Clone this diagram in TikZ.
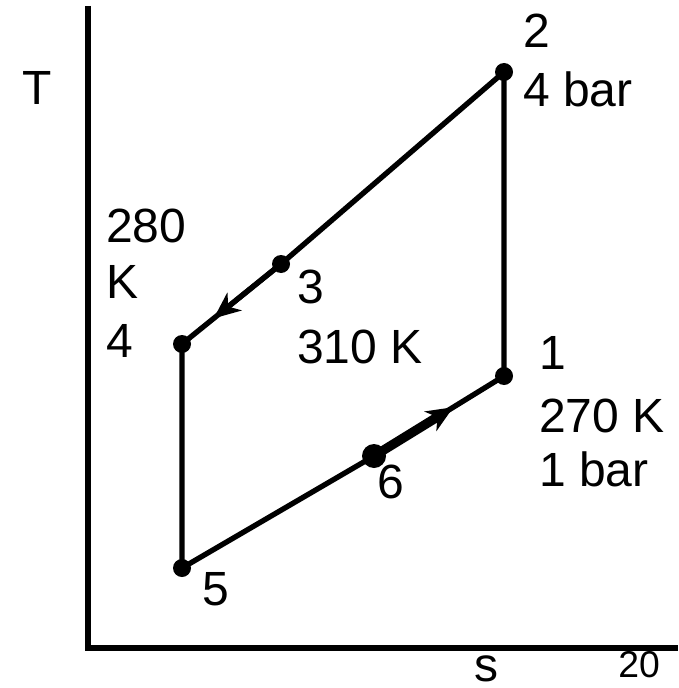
\documentclass[tikz,border=0pt]{standalone}
\usepackage{fontspec}
\setmainfont{Liberation Sans}
\usetikzlibrary{arrows.meta,calc}
\begin{document}
\begin{tikzpicture}[x=0.75pt,y=-0.75pt,
  curve/.style={line width=4pt},
  dot/.style={circle,fill=black,inner sep=0pt,minimum size=13.5pt},
  bigdot/.style={circle,fill=black,inner sep=0pt,minimum size=18pt},
  lbl/.style={anchor=base west,inner sep=0pt,font=\fontsize{36}{43}\selectfont},
  smalllbl/.style={anchor=base west,inner sep=0pt,font=\fontsize{28}{34}\selectfont},
  tip/.style={-{Stealth[length=20pt,width=17pt,inset=6pt]}}]
\useasboundingbox (0,0) rectangle (678,688);
% axes
\coordinate (ytop) at (88,6);
\coordinate (origin) at (88,648);
\coordinate (xend) at (678,648);
\draw[curve,line join=miter] (ytop) -- (origin) -- (xend);
% state points
\node[dot] (p2) at (504,72) {};
\node[dot] (p3) at (281,264) {};
\node[dot] (p4) at (182,344) {};
\node[dot] (p5) at (182,568) {};
\node[dot] (p1) at (504,376) {};
\node[bigdot] (p6) at (374,456) {};
% cycle
\draw[curve] (p1.center) -- (p2.center) -- (p3.center) -- (p4.center) -- (p5.center) -- (p6.center) -- (p1.center);
% arrows
\coordinate (a34) at ($(p3)!0.68!(p4)$);
\draw[curve,tip] (p3.center) -- (a34);
\coordinate (a61) at ($(p6)!0.61!(p1)$);
\draw[line width=7pt,tip] (p6.center) -- (a61);
% labels
\node[lbl] (tT) at (22,105) {T};
\node[lbl] (l2a) at (523,48) {2};
\node[lbl] (l2b) at (523,107) {4 bar};
\node[lbl] (l4a) at (106,242) {280};
\node[lbl] (l4b) at (106,298) {K};
\node[lbl] (l4c) at (106,357) {4};
\node[lbl] (l3a) at (297,303) {3};
\node[lbl] (l3b) at (297,363) {310 K};
\node[lbl] (l1a) at (539,369) {1};
\node[lbl] (l1b) at (539,432) {270 K};
\node[lbl] (l1c) at (539,486) {1 bar};
\node[lbl] (l6) at (377,498) {6};
\node[lbl] (l5) at (202,605) {5};
\node[lbl] (ls) at (474,681) {s};
\node[smalllbl] (l20) at (618,677) {20};
\end{tikzpicture}
\end{document}
